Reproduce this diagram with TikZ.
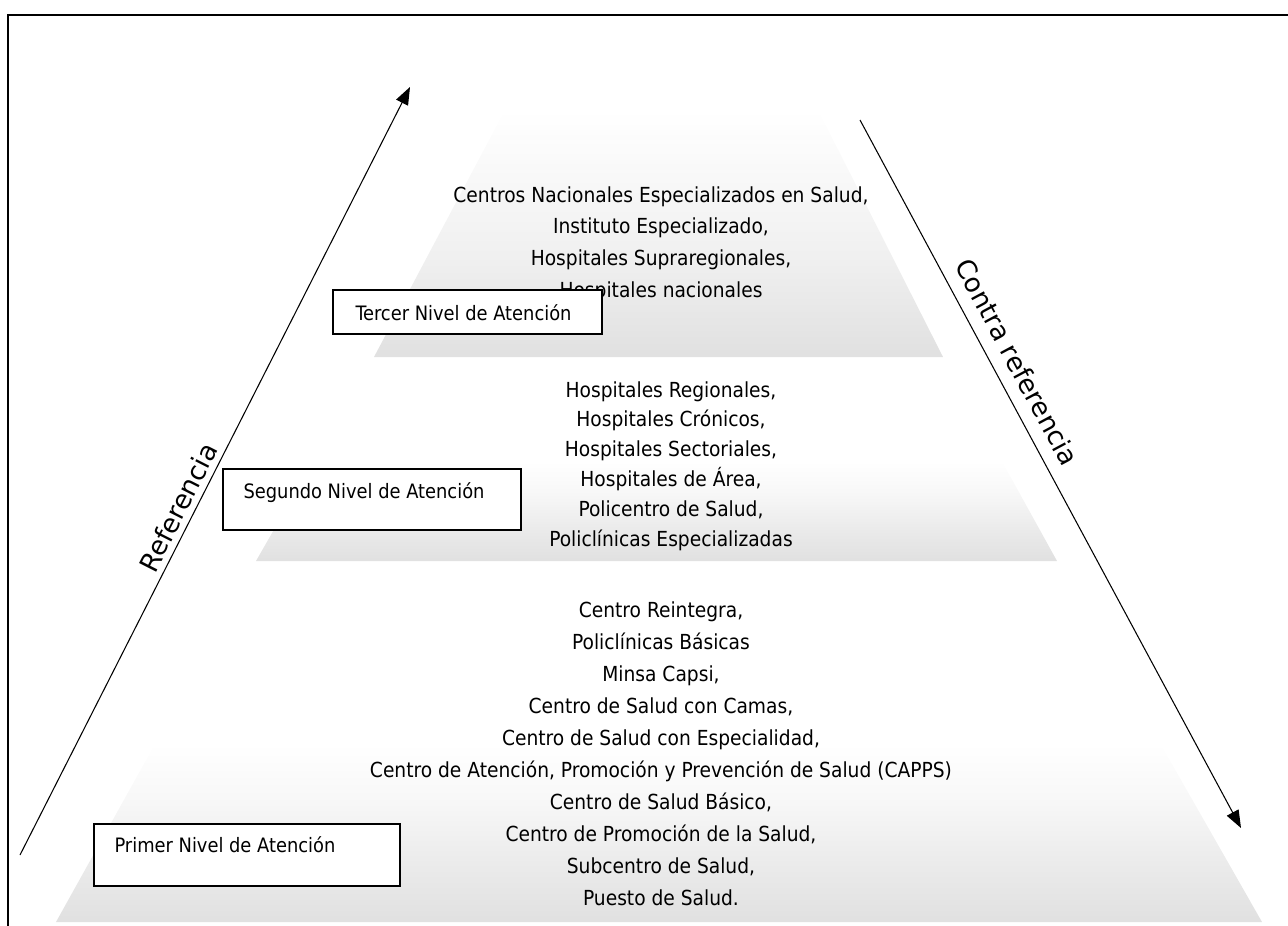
\documentclass[tikz,border=0pt]{standalone}
\usepackage{fontspec}
\setmainfont{DejaVu Sans}
\newfontfamily\narrowfont{DejaVu Sans Condensed}
\usetikzlibrary{arrows.meta}
\pgfdeclareverticalshading{level}{100bp}{color(0bp)=(black!12); color(25bp)=(black!12); color(33bp)=(black!8); color(42bp)=(black!3); color(50bp)=(white); color(100bp)=(white)}
\pgfdeclareverticalshading{toplevel}{100bp}{color(0bp)=(black!12); color(25bp)=(black!12); color(45bp)=(black!6); color(75bp)=(white); color(100bp)=(white)}

\begin{document}
\begin{tikzpicture}[x=0.02cm, y=-0.02cm, >={Triangle[length=10pt,width=7.5pt]}, line width=0.6pt,
  levelbox/.style={draw, line width=1.3pt, fill=white, inner sep=0pt, anchor=north west},
  levellabel/.style={font=\narrowfont\fontsize{11.3}{13}\selectfont, anchor=west, inner sep=0pt},
  levellist/.style={font=\narrowfont\fontsize{11.8}{#1}\selectfont, align=center, inner sep=0pt},
  arrowlabel/.style={font=\fontsize{15}{18}\selectfont, sloped}]
\clip (0,0) rectangle (1288,926);
\draw[line width=1.6pt] (8,15) rectangle (1310,940);

% pyramid
\shade[shading=toplevel] (505,110) -- (818,110) -- (943,357) -- (374,357) -- cycle;
\shade[shading=level] (370,362) -- (947,362) -- (1057,561) -- (256,561) -- cycle;
\shade[shading=level] (254,566) -- (1059,566) -- (1262,922) -- (56,922) -- cycle;

\node[levellist=18pt] (tercerlist) at (661,244) {Centros Nacionales Especializados en Salud,\\ Instituto Especializado,\\ Hospitales Supraregionales,\\ Hospitales nacionales};
\node[levellist=17pt] (segundolist) at (671,466) {Hospitales Regionales,\\ Hospitales Crónicos,\\ Hospitales Sectoriales,\\ Hospitales de Área,\\ Policentro de Salud,\\ Policlínicas Especializadas};
\node[levellist=18.2pt] (primerlist) at (661,754) {Centro Reintegra,\\ Policlínicas Básicas\\ Minsa Capsi,\\ Centro de Salud con Camas,\\ Centro de Salud con Especialidad,\\ Centro de Atención, Promoción y Prevención de Salud (CAPPS)\\ Centro de Salud Básico,\\ Centro de Promoción de la Salud,\\ Subcentro de Salud,\\ Puesto de Salud.};

% level boxes
\node[levelbox, minimum width=5.38cm, minimum height=0.88cm] (tercer) at (332,289) {};
\node[levellabel] (tercertext) at (355,313) {Tercer Nivel de Atención};
\node[levelbox, minimum width=5.96cm, minimum height=1.22cm] (segundo) at (222,468) {};
\node[levellabel] (segundotext) at (243,493) {Segundo Nivel de Atención};
\node[levelbox, minimum width=6.12cm, minimum height=1.24cm] (primer) at (93,823) {};
\node[levellabel] (primertext) at (114,845) {Primer Nivel de Atención};

% arrows
\coordinate (refbot) at (20,855);
\coordinate (reftop) at (410,87);
\coordinate (contratop) at (860,120);
\coordinate (contrabot) at (1241,828);
\draw[->] (refbot) -- node[arrowlabel, above, pos=.443] (reflabel) {Referencia} (reftop);
\draw[->] (contratop) -- node[arrowlabel, above=4pt, pos=.358] (contralabel) {Contra referencia} (contrabot);
\end{tikzpicture}
\end{document}
